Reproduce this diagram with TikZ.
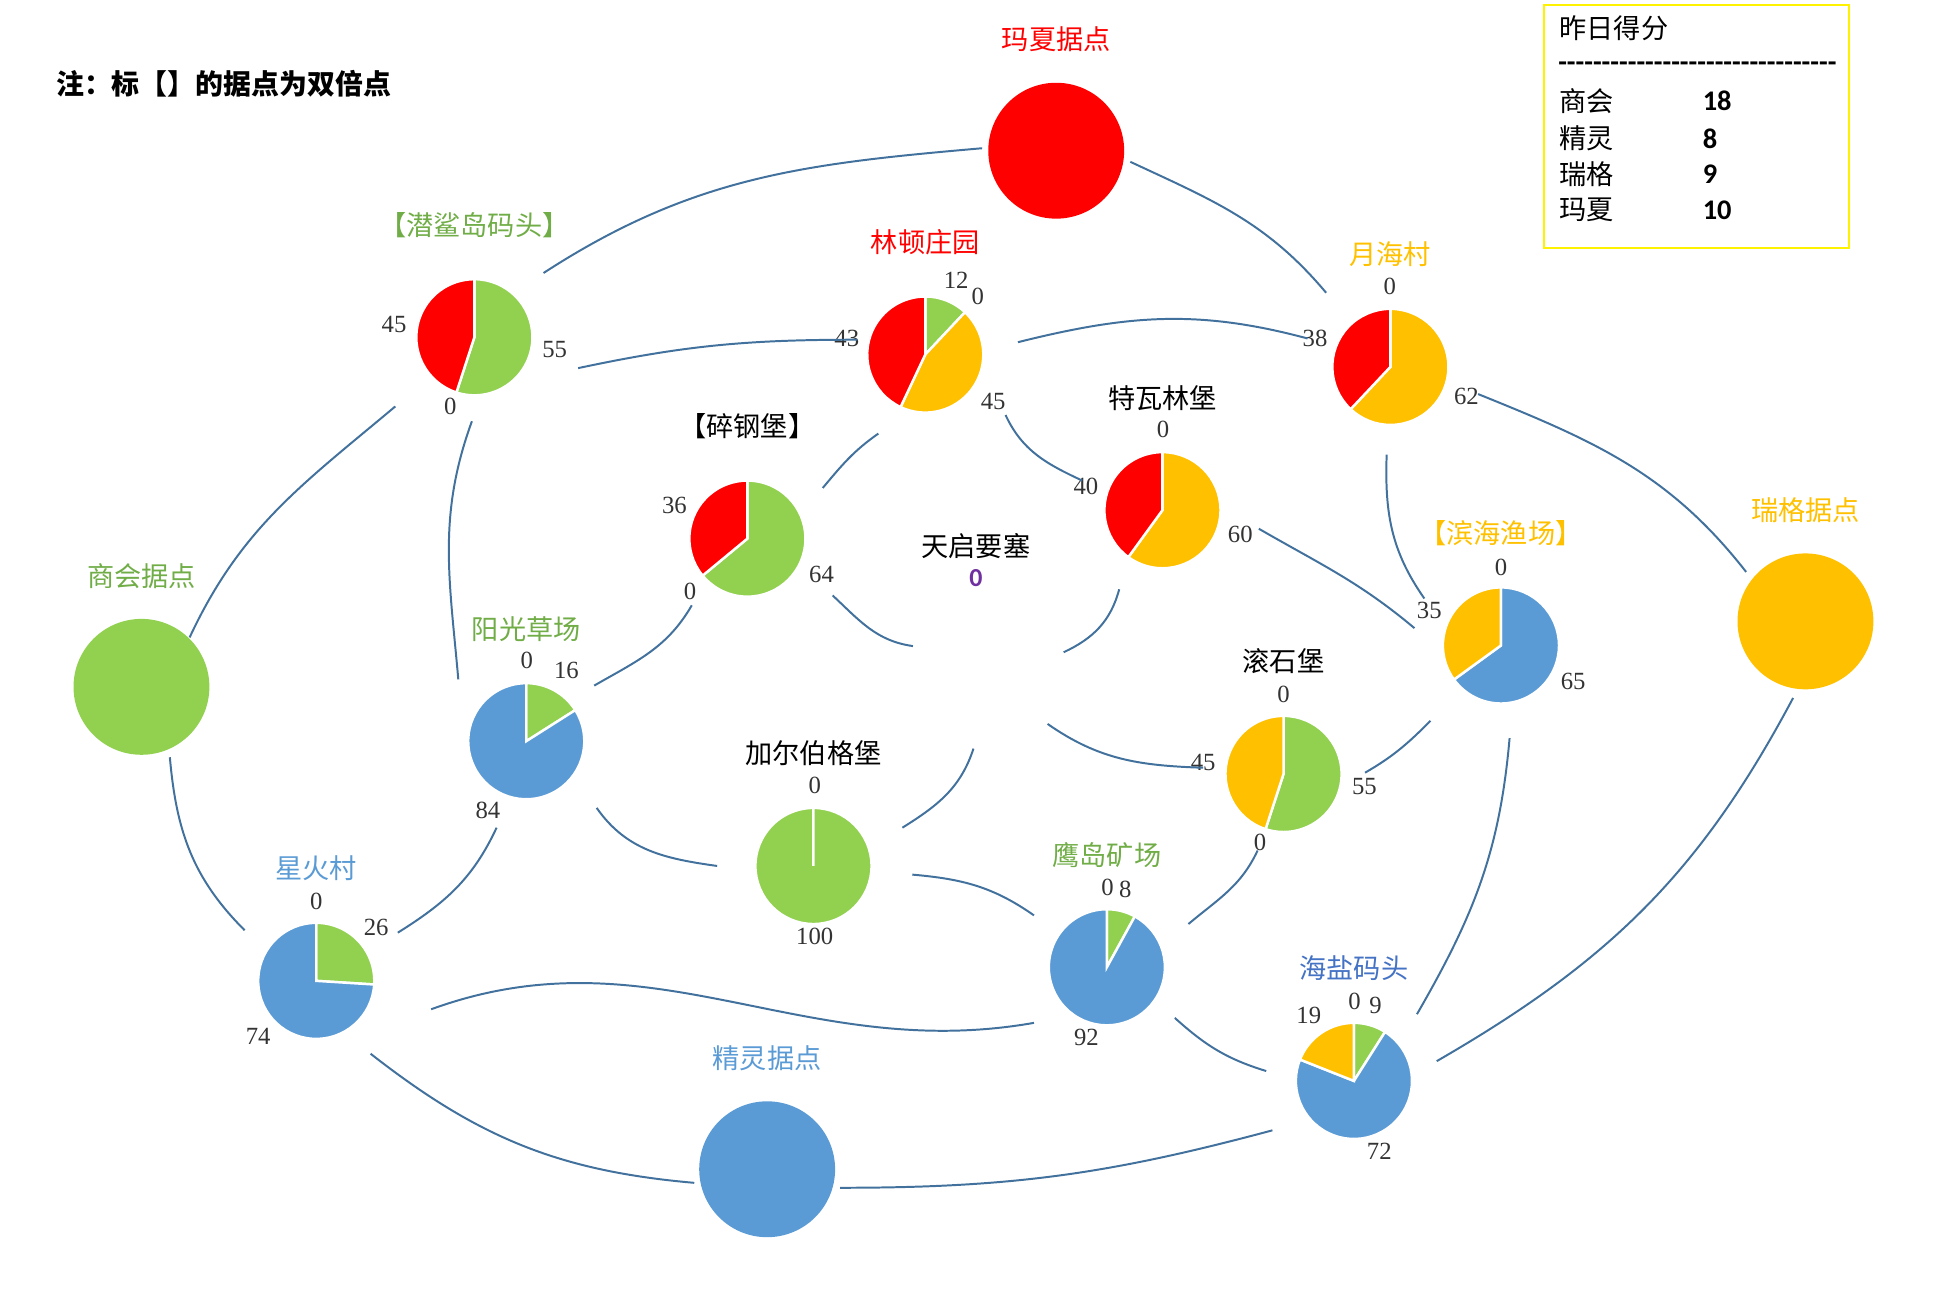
\documentclass[tikz,border=0pt]{standalone}
\usepackage{fontspec}
\setmainfont{Liberation Serif}
\newfontfamily\cjk{Noto Sans CJK SC}
\newfontfamily\calibri{Carlito}
\usetikzlibrary{calc}

\definecolor{pgreen}{HTML}{92D050}
\definecolor{pblue}{HTML}{5B9BD5}
\definecolor{porange}{HTML}{FFC000}
\definecolor{pred}{HTML}{FF0000}
\definecolor{tgreen}{HTML}{70AD47}
\definecolor{tblue}{HTML}{4472C4}
\definecolor{linkblue}{HTML}{41719C}
\definecolor{tpurple}{HTML}{7030A0}

% one slice of a pie: node, from %, to %, colour
\newcommand{\pieslice}[4]{%
	\fill[#4, draw=white, line width=1pt] (#1.center) -- ++({90-3.6*#2}:23.5pt)
	arc[start angle={90-3.6*#2}, end angle={90-3.6*#3}, radius=23.5pt] -- cycle;}

\tikzset{
	link/.style={draw=linkblue, line width=0.8pt},
	piebox/.style={circle, minimum size=47pt, inner sep=0pt},
	hub/.style={circle, minimum size=55pt, inner sep=0pt},
	sitename/.style={font=\cjk\fontsize{11}{13}\selectfont, inner sep=0pt},
	val/.style={font=\fontsize{10}{12}\selectfont, text=black!80, inner sep=0pt},
	legtext/.style={font=\cjk\fontsize{11}{13}\selectfont, anchor=west, inner sep=0pt},
	legnum/.style={font=\calibri\bfseries\fontsize{11.5}{13}\selectfont, anchor=west, inner sep=0pt},
}

\begin{document}
\begin{tikzpicture}[x=0.5pt, y=-0.5pt]

	\useasboundingbox (0,0) rectangle (1568,1047.5);

	% Note
	\node[font=\cjk\bfseries\fontsize{11.3}{13}\selectfont, anchor=west, inner sep=0pt] (note) at (45,67.5) {注：标【】的据点为双倍点};

	% Score box
	\node[draw=yellow, line width=0.9pt, minimum width=123.5pt, minimum height=98.5pt, inner sep=0pt] (score) at (1373.5,102.5) {};
	\node[legtext] (score-title) at (1262,23) {昨日得分};
	\node[legnum] (score-rule) at (1261,54) {-{}-{}-{}-{}-{}-{}-{}-{}-{}-{}-{}-{}-{}-{}-{}-{}-{}-{}-{}-{}-{}-{}-{}-{}-{}-{}-{}-{}-{}-{}-{}-{}};
	\node[legtext] (score-n1) at (1262,82) {商会};
	\node[legnum] (score-v1) at (1378,82) {18};
	\node[legtext] (score-n2) at (1262,112) {精灵};
	\node[legnum] (score-v2) at (1378,112) {8};
	\node[legtext] (score-n3) at (1262,141) {瑞格};
	\node[legnum] (score-v3) at (1378,141) {9};
	\node[legtext] (score-n4) at (1262,170) {玛夏};
	\node[legnum] (score-v4) at (1378,170) {10};

	% Home bases
	\node[hub, fill=pred] (mashia) at (855,122) {};
	\node[sitename, text=pred] (mashia-t) at ([yshift=45pt]mashia.center) {玛夏据点};
	\node[hub, fill=pgreen] (shanghui) at (114.5,556) {};
	\node[sitename, text=tgreen] (shanghui-t) at ([yshift=45pt]shanghui.center) {商会据点};
	\node[hub, fill=porange] (ruige) at (1461.5,503) {};
	\node[sitename, text=porange] (ruige-t) at ([yshift=45pt]ruige.center) {瑞格据点};
	\node[hub, fill=pblue] (jingling) at (621,946.5) {};
	\node[sitename, text=pblue] (jingling-t) at ([yshift=45pt]jingling.center) {精灵据点};

	% Strongholds
	\node[piebox] (qiansha) at (384,273) {};
	\node[piebox] (lindun) at (749,287) {};
	\node[piebox] (yuehai) at (1125.5,297) {};
	\node[piebox] (suigang) at (605,436) {};
	\node[piebox] (tewalin) at (941,413) {};
	\node[piebox] (tianqi) at (790,533) {};
	\node[piebox] (binhai) at (1215,522.5) {};
	\node[piebox] (yangguang) at (426,600) {};
	\node[piebox] (gunshi) at (1039,626.5) {};
	\node[piebox] (jiaer) at (658.5,701) {};
	\node[piebox] (yingdao) at (896,783) {};
	\node[piebox] (xinghuo) at (256,794) {};
	\node[piebox] (haiyan) at (1096,875) {};

	\node[sitename, text=tgreen] (qiansha-t) at ([yshift=45.5pt]qiansha.center) {【潜鲨岛码头】};
	\node[sitename, text=pred] (lindun-t) at ([yshift=45.5pt]lindun.center) {林顿庄园};
	\node[sitename, text=porange] (yuehai-t) at ([yshift=45.5pt]yuehai.center) {月海村};
	\node[sitename] (suigang-t) at ([yshift=45.5pt]suigang.center) {【碎钢堡】};
	\node[sitename] (tewalin-t) at ([yshift=45.5pt]tewalin.center) {特瓦林堡};
	\node[sitename] (tianqi-t) at ([yshift=45.5pt]tianqi.center) {天启要塞};
	\node[sitename, text=porange] (binhai-t) at ([yshift=45.5pt]binhai.center) {【滨海渔场】};
	\node[sitename, text=tgreen] (yangguang-t) at ([yshift=45.5pt]yangguang.center) {阳光草场};
	\node[sitename] (gunshi-t) at ([yshift=45.5pt]gunshi.center) {滚石堡};
	\node[sitename] (jiaer-t) at ([yshift=45.5pt]jiaer.center) {加尔伯格堡};
	\node[sitename, text=tgreen] (yingdao-t) at ([yshift=45.5pt]yingdao.center) {鹰岛矿场};
	\node[sitename, text=pblue] (xinghuo-t) at ([yshift=45.5pt]xinghuo.center) {星火村};
	\node[sitename, text=tblue] (haiyan-t) at ([yshift=45.5pt]haiyan.center) {海盐码头};

	% Pie slices
	\pieslice{qiansha}{0}{55}{pgreen}
	\pieslice{qiansha}{55}{100}{pred}
	\pieslice{lindun}{0}{12}{pgreen}
	\pieslice{lindun}{12}{57}{porange}
	\pieslice{lindun}{57}{100}{pred}
	\pieslice{yuehai}{0}{62}{porange}
	\pieslice{yuehai}{62}{100}{pred}
	\pieslice{suigang}{0}{64}{pgreen}
	\pieslice{suigang}{64}{100}{pred}
	\pieslice{tewalin}{0}{60}{porange}
	\pieslice{tewalin}{60}{100}{pred}
	\pieslice{binhai}{0}{65}{pblue}
	\pieslice{binhai}{65}{100}{porange}
	\pieslice{yangguang}{0}{16}{pgreen}
	\pieslice{yangguang}{16}{100}{pblue}
	\pieslice{gunshi}{0}{55}{pgreen}
	\pieslice{gunshi}{55}{100}{porange}
	\pieslice{jiaer}{0}{100}{pgreen}
	\pieslice{yingdao}{0}{8}{pgreen}
	\pieslice{yingdao}{8}{100}{pblue}
	\pieslice{xinghuo}{0}{26}{pgreen}
	\pieslice{xinghuo}{26}{100}{pblue}
	\pieslice{haiyan}{0}{9}{pgreen}
	\pieslice{haiyan}{9}{81}{pblue}
	\pieslice{haiyan}{81}{100}{porange}

	% Values
	\node[val] (qiansha-a) at (319,263) {45};
	\node[val] (qiansha-b) at (449,283) {55};
	\node[val] (qiansha-c) at (364.5,329) {0};
	\node[val] (lindun-a) at (774,227) {12};
	\node[val] (lindun-b) at (791.5,240) {0};
	\node[val] (lindun-c) at (804,325) {45};
	\node[val] (lindun-d) at (685.5,274) {43};
	\node[val] (yuehai-a) at (1125,232) {0};
	\node[val] (yuehai-b) at (1064.5,274) {38};
	\node[val] (yuehai-c) at (1187,321) {62};
	\node[val] (suigang-a) at (546,409) {36};
	\node[val] (suigang-b) at (665,465) {64};
	\node[val] (suigang-c) at (558.5,479) {0};
	\node[val] (tewalin-a) at (941.5,348) {0};
	\node[val] (tewalin-b) at (879,394) {40};
	\node[val] (tewalin-c) at (1004,433) {60};
	\node[font=\calibri\bfseries\fontsize{10.5}{12}\selectfont, text=tpurple, inner sep=0pt] (tianqi-a) at (790,468) {0};
	\node[val] (binhai-a) at (1215,459) {0};
	\node[val] (binhai-b) at (1157,494) {35};
	\node[val] (binhai-c) at (1273.5,552) {65};
	\node[val] (yangguang-a) at (426.5,535) {0};
	\node[val] (yangguang-b) at (458.5,543) {16};
	\node[val] (yangguang-c) at (395,656) {84};
	\node[val] (gunshi-a) at (1039,562) {0};
	\node[val] (gunshi-b) at (974,617) {45};
	\node[val] (gunshi-c) at (1104.5,637) {55};
	\node[val] (gunshi-d) at (1020,682) {0};
	\node[val] (jiaer-a) at (659.5,636) {0};
	\node[val] (jiaer-b) at (659.5,758) {100};
	\node[val] (yingdao-a) at (896.5,718) {0};
	\node[val] (yingdao-b) at (911,720) {8};
	\node[val] (yingdao-c) at (879.5,840) {92};
	\node[val] (xinghuo-a) at (256,730) {0};
	\node[val] (xinghuo-b) at (304.5,751) {26};
	\node[val] (xinghuo-c) at (209,839) {74};
	\node[val] (haiyan-a) at (1096.5,811) {0};
	\node[val] (haiyan-b) at (1113.5,814) {9};
	\node[val] (haiyan-c) at (1059.5,822) {19};
	\node[val] (haiyan-d) at (1116.5,932) {72};

	% Routes
	\draw[link] ($(qiansha)+(56,-52)$) to[out=33, in=185] ($(mashia)+(-60,-2)$);
	\draw[link] ($(mashia)+(60,9)$) to[out=-25, in=130] ($(yuehai)+(-52,-60)$);
	\draw[link] ($(qiansha)+(84,25)$) to[out=12, in=180] ($(lindun)+(-55,-12)$);
	\draw[link] ($(lindun)+(75,-10)$) to[out=14, in=165] ($(yuehai)+(-67,-23)$);
	\draw[link] ($(lindun)+(65,49)$) to[out=-65, in=155] ($(tewalin)+(-65,-24)$);
	\draw[link] ($(lindun)+(-38,64)$) to[out=215, in=50] ($(suigang)+(61,-41)$);
	\draw[link] ($(qiansha)+(-64,56)$) to[out=220, in=65] ($(shanghui)+(39,-40)$);
	\draw[link] ($(qiansha)+(-2,68)$) to[out=250, in=95] ($(yangguang)+(-55,-50)$);
	\draw[link] ($(suigang)+(-45,54)$) to[out=240, in=30] ($(yangguang)+(55,-45)$);
	\draw[link] ($(suigang)+(69,46)$) to[out=-43, in=172] ($(tianqi)+(-51,-10)$);
	\draw[link] ($(tewalin)+(-35,64)$) to[out=255, in=25] ($(tianqi)+(71,-5)$);
	\draw[link] ($(tianqi)+(58,53)$) to[out=-35, in=178] ($(gunshi)+(-65,-5)$);
	\draw[link] ($(tianqi)+(-2,73)$) to[out=252, in=32] ($(jiaer)+(72,-31)$);
	\draw[link] ($(tewalin)+(78,15)$) to[out=-30, in=140] ($(binhai)+(-70,-14)$);
	\draw[link] ($(yuehai)+(-3,71)$) to[out=268, in=125] ($(binhai)+(-62,-38)$);
	\draw[link] ($(yuehai)+(71,22)$) to[out=-22, in=128] ($(ruige)+(-48,-40)$);
	\draw[link] ($(shanghui)+(23,57)$) to[out=-85, in=135] ($(xinghuo)+(-58,-41)$);
	\draw[link] ($(yangguang)+(-24,70)$) to[out=245, in=32] ($(xinghuo)+(66,-39)$);
	\draw[link] ($(yangguang)+(57,54)$) to[out=-55, in=172] ($(jiaer)+(-78,0)$);
	\draw[link] ($(gunshi)+(66,-1)$) to[out=30, in=225] ($(binhai)+(-57,61)$);
	\draw[link] ($(gunshi)+(-21,62)$) to[out=245, in=40] ($(yingdao)+(66,-35)$);
	\draw[link] ($(jiaer)+(80,7)$) to[out=-5, in=145] ($(yingdao)+(-59,-42)$);
	\draw[link] ($(xinghuo)+(93,23)$) to[out=20, in=190] ($(yingdao)+(-59,45)$);
	\draw[link] ($(yingdao)+(55,41)$) to[out=-42, in=163] ($(haiyan)+(-71,-8)$);
	\draw[link] ($(xinghuo)+(44,59)$) to[out=-38, in=175] ($(jingling)+(-59,11)$);
	\draw[link] ($(jingling)+(59,15)$) to[out=0, in=195] ($(haiyan)+(-66,40)$);
	\draw[link] ($(binhai)+(7,75)$) to[out=265, in=60] ($(haiyan)+(51,-54)$);
	\draw[link] ($(ruige)+(-10,62)$) to[out=242, in=30] ($(haiyan)+(67,-16)$);

\end{tikzpicture}
\end{document}
